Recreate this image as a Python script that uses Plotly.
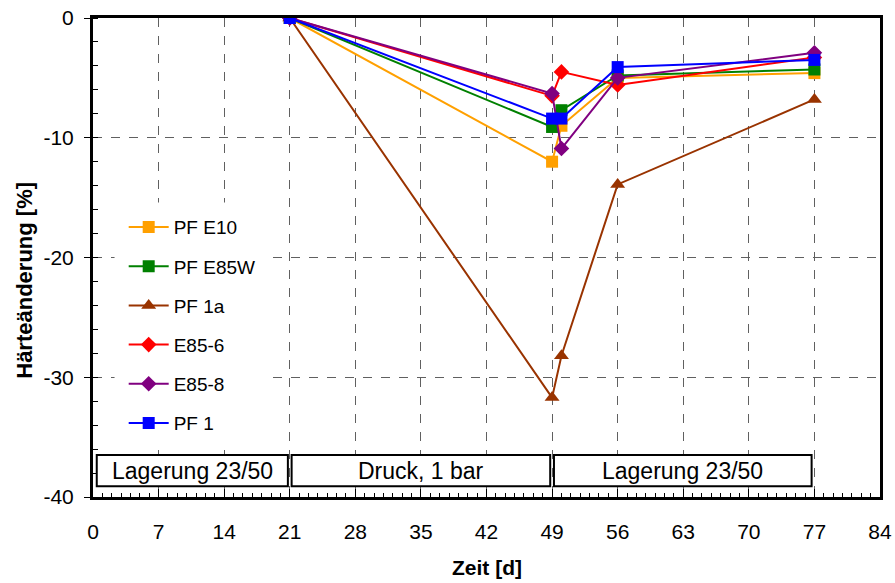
import plotly.graph_objects as go

days = [21, 49, 50, 56, 77]
series = {
    "PF E10":  [0, -12.0, -9.0, -5.0, -4.6],
    "PF E85W": [0, -9.1, -7.7, -4.8, -4.3],
    "PF 1a":   [0, -31.7, -28.2, -13.9, -6.8],
    "E85-6":   [0, -6.5, -4.5, -5.6, -3.3],
    "E85-8":   [0, -6.3, -10.9, -5.0, -2.9],
    "PF 1":    [0, -8.4, -8.4, -4.1, -3.5],
}
colors = {
    "PF E10": "#FFA000",
    "PF E85W": "#008000",
    "PF 1a": "#993300",
    "E85-6": "#FF0000",
    "E85-8": "#800080",
    "PF 1": "#0000FF",
}
symbols = {
    "PF E10": "square",
    "PF E85W": "square",
    "PF 1a": "triangle-up",
    "E85-6": "diamond",
    "E85-8": "diamond",
    "PF 1": "square",
}
sizes = {"PF E10": 12, "PF E85W": 12, "PF 1a": 13, "E85-6": 12, "E85-8": 12, "PF 1": 12}

phase_labels = ["Lagerung 23/50", "Druck, 1 bar", "Lagerung 23/50"]
phase_x0 = [0.4, 21.2, 49.2]
phase_x1 = [20.8, 48.8, 76.7]
phase_y0, phase_y1 = -39.1, -36.5

x_ticks = list(range(0, 85, 7))
y_ticks = [0, -10, -20, -30, -40]
y_ticktext = ["0", "-10", "-20", "-30", "-40"]

FONT = "Liberation Sans, Arial, sans-serif"

fig = go.Figure()
for i, (name, vals) in enumerate(series.items()):
    fig.add_trace(go.Scatter(
        x=days, y=vals, name=name, mode="lines+markers",
        legendgroup=f"g{i}",
        line=dict(color=colors[name], width=2),
        marker=dict(symbol=symbols[name], size=sizes[name], color=colors[name]),
    ))

# white legend background area (hides gridlines behind legend)
fig.add_shape(type="rect", x0=2.3, x1=18.3, y0=-35.8, y1=-15.4, xref="x", yref="y",
              line=dict(width=0), fillcolor="white", layer="above")

for lab, a, b in zip(phase_labels, phase_x0, phase_x1):
    fig.add_shape(type="rect", x0=a, x1=b, y0=phase_y0, y1=phase_y1,
                  xref="x", yref="y", line=dict(color="black", width=2),
                  fillcolor="white", layer="above")
    fig.add_annotation(x=(a + b) / 2, y=(phase_y0 + phase_y1) / 2, text=lab,
                       showarrow=False, xref="x", yref="y",
                       font=dict(family=FONT, size=23, color="black"))

axis_common = dict(
    showline=True, linecolor="black", linewidth=3, mirror=True,
    showgrid=True, gridcolor="#606060", griddash="dash", gridwidth=1,
    zeroline=False, automargin=False,
    tickfont=dict(family=FONT, size=21, color="black"),
)

fig.update_xaxes(
    range=[0, 84], tickvals=x_ticks, ticks="inside", ticklen=8, tickcolor="black",
    ticklabelstandoff=14,
    minor=dict(ticks="inside", dtick=1, tick0=0, ticklen=4, tickcolor="black", showgrid=False),
    **axis_common,
)
fig.update_yaxes(
    range=[-40, 0], tickvals=y_ticks, ticktext=y_ticktext, ticks="outside", ticklen=6,
    tickcolor="black", ticklabelstandoff=6,
    minor=dict(ticks="inside", dtick=2, tick0=0, ticklen=5, tickcolor="black", showgrid=False),
    **axis_common,
)

fig.add_annotation(text="<b>Zeit [d]</b>", xref="paper", yref="paper",
                   x=0.5, y=-0.148, xanchor="center", yanchor="middle", showarrow=False,
                   font=dict(family=FONT, size=21, color="black"))
fig.add_annotation(text="<b>Härteänderung [%]</b>", xref="paper", yref="paper",
                   x=-0.088, y=0.453, xanchor="center", yanchor="middle", showarrow=False,
                   textangle=-90,
                   font=dict(family=FONT, size=22, color="black"))

fig.update_layout(
    width=895, height=583,
    margin=dict(l=93, r=15, t=18, b=86),
    plot_bgcolor="white", paper_bgcolor="white",
    legend=dict(x=0.039, y=0.603, xanchor="left", yanchor="top",
                bgcolor="rgba(255,255,255,0)", tracegroupgap=11.5, itemwidth=40,
                font=dict(family=FONT, size=19, color="black")),
    showlegend=True,
)

fig.write_html("out.html")
